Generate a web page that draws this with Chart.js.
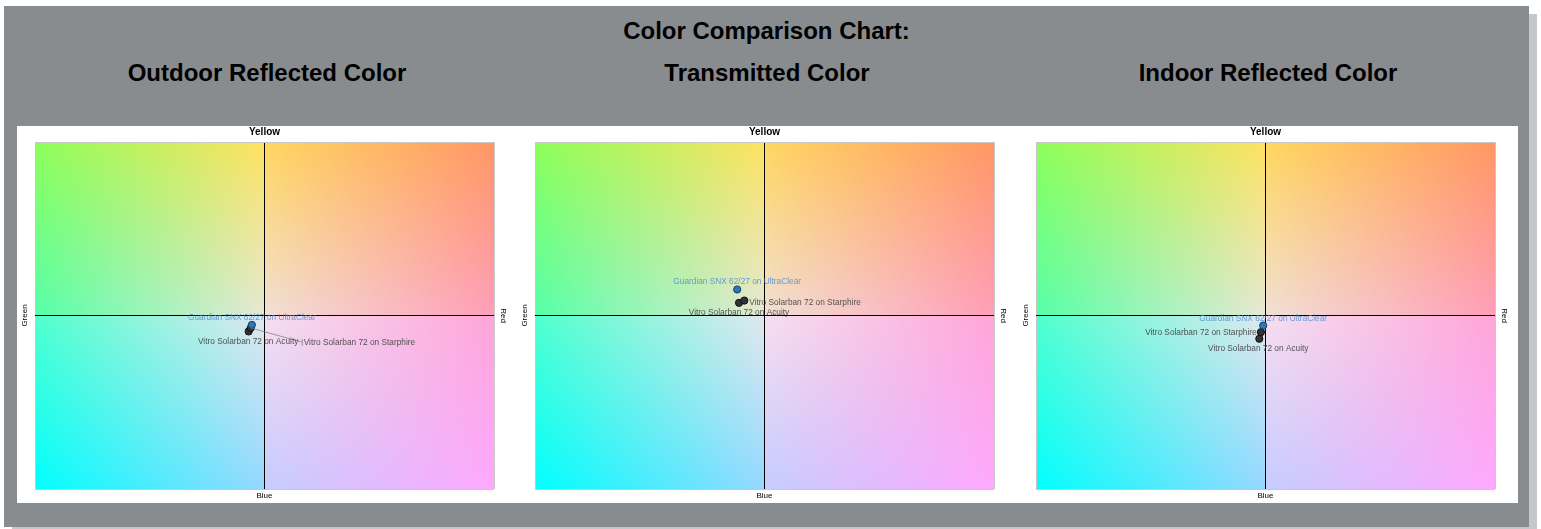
<!DOCTYPE html>
<html>
<head>
<meta charset="utf-8">
<script src="https://cdn.jsdelivr.net/npm/chart.js@4"></script>
<style>
body { margin: 0; background: #fff; font-family: Arial, "Liberation Sans", sans-serif; }
#frame { position: absolute; left: 4px; top: 6px; width: 1525px; height: 521px; background: #898c8e; box-shadow: 8px 8px 0 #c6c7c8; }
.ttl { position: absolute; font-weight: bold; font-size: 24px; line-height: 28px; height: 28px; text-align: center; color: #000; white-space: nowrap; }
#panel { position: absolute; left: 13px; top: 120px; width: 1501px; height: 377px; background: #fff; }
#panel canvas { position: absolute; top: 0; }
</style>
</head>
<body>
<div id="frame">
  <div class="ttl" style="left:0;width:1525px;top:11px">Color Comparison Chart:</div>
  <div class="ttl" style="left:13px;width:500px;top:53px">Outdoor Reflected Color</div>
  <div class="ttl" style="left:513px;width:500px;top:53px">Transmitted Color</div>
  <div class="ttl" style="left:1014px;width:500px;top:53px">Indoor Reflected Color</div>
  <div id="panel">
    <canvas id="c1" width="500" height="377" style="left:0"></canvas>
    <canvas id="c2" width="500" height="377" style="left:500px"></canvas>
    <canvas id="c3" width="500" height="377" style="left:1001px"></canvas>
  </div>
</div>
<script>
// products, same order in every chart
const products = ['Guardian SNX 62/27 on UltraClear', 'Vitro Solarban 72 on Starphire', 'Vitro Solarban 72 on Acuity'];

// a (green -> red) and b (blue -> yellow) values
const outdoorA = [-0.55, -0.60, -0.69];
const outdoorB = [-0.54, -0.72, -0.92];
const transA = [-1.19, -0.88, -1.11];
const transB = [1.50, 0.86, 0.73];
const indoorA = [-0.10, -0.20, -0.27];
const indoorB = [-0.58, -0.96, -1.34];

const axisMin = -10;
const axisMax = 10;

const pointFill = ['rgb(40,122,192)', '#333', '#333'];
const pointEdge = ['rgb(25,60,95)', '#111', '#111'];
const labelColor = ['rgba(70,138,205,0.8)', 'rgba(55,55,55,0.85)', 'rgba(55,55,55,0.85)'];

Chart.defaults.font.family = 'Arial, "Liberation Sans", sans-serif';

// colour field: bilinear per quadrant, [center, side, top/bottom, corner]
const quads = {
    tl: [[230, 232, 212], [85, 255, 170], [255, 225, 98], [140, 255, 90]],
    tr: [[240, 224, 212], [255, 158, 185], [255, 215, 95], [255, 150, 100]],
    bl: [[224, 232, 238], [80, 255, 205], [150, 215, 255], [0, 255, 255]],
    br: [[246, 222, 240], [255, 165, 215], [196, 205, 255], [255, 168, 255]]
};

function buildField(w, h) {
    let cv = document.createElement('canvas');
    cv.width = w; cv.height = h;
    let c = cv.getContext('2d');
    let img = c.createImageData(w, h);
    for (let j = 0; j < h; j++) {
        let v = (j + 0.5) / h * 2 - 1;
        for (let i = 0; i < w; i++) {
            let u = (i + 0.5) / w * 2 - 1;
            let q = quads[(v < 0 ? 't' : 'b') + (u < 0 ? 'l' : 'r')];
            let a = Math.abs(u), b = Math.abs(v);
            let k = (j * w + i) * 4;
            for (let ch = 0; ch < 3; ch++) {
                img.data[k + ch] = (1 - a) * (1 - b) * q[0][ch] + a * (1 - b) * q[1][ch] + (1 - a) * b * q[2][ch] + a * b * q[3][ch];
            }
            img.data[k + 3] = 255;
        }
    }
    c.putImageData(img, 0, 0);
    return cv;
}

const fieldPlugin = {
    id: 'field',
    beforeDraw(chart) {
        let a = chart.chartArea;
        let w = Math.round(a.right - a.left), h = Math.round(a.bottom - a.top);
        if (!chart.$field || chart.$field.width != w || chart.$field.height != h)
            chart.$field = buildField(w, h);
        chart.ctx.drawImage(chart.$field, a.left, a.top);
    }
};

function labelPlugin(offsets) {
    return {
        id: 'pointLabels',
        afterDatasetsDraw(chart) {
            let ctx = chart.ctx;
            ctx.save();
            ctx.font = '8.3px Arial, "Liberation Sans", sans-serif';
            ctx.textBaseline = 'middle';
            for (let i = 0; i < products.length; i++) {
                let el = chart.getDatasetMeta(i).data[0];
                let o = offsets[i];
                let lx = el.x + o.dx, ly = el.y + o.dy;
                if (o.leader) {
                    ctx.strokeStyle = 'rgba(120,120,120,0.7)';
                    ctx.lineWidth = 1;
                    ctx.beginPath();
                    ctx.moveTo(el.x, el.y);
                    ctx.lineTo(lx - 2, ly - 1);
                    ctx.moveTo(lx - 1.5, ly - 4);
                    ctx.lineTo(lx - 1.5, ly + 3);
                    ctx.stroke();
                }
                ctx.textAlign = o.align;
                ctx.fillStyle = labelColor[i];
                ctx.fillText(products[i], lx, ly);
            }
            ctx.restore();
        }
    };
}

function gridColor(c) {
    if (!c.tick) return 'transparent';
    return c.tick.value == 0 ? '#000' : '#c8c8c8';
}

function makeChart(id, xs, ys, offsets) {
    let datasets = products.map((p, i) => ({
        label: p,
        data: [{ x: xs[i], y: ys[i] }],
        backgroundColor: pointFill[i],
        borderColor: pointEdge[i],
        borderWidth: 1,
        pointRadius: 3.6
    }));
    let hidden = { display: false };
    new Chart(document.getElementById(id), {
        type: 'scatter',
        data: { datasets: datasets },
        options: {
            responsive: false,
            animation: false,
            layout: { padding: 0 },
            plugins: { legend: hidden, tooltip: { enabled: false } },
            scales: {
                x: {
                    type: 'linear', position: 'bottom', min: axisMin, max: axisMax,
                    ticks: { display: false, stepSize: 10 },
                    grid: { color: gridColor, drawTicks: false },
                    border: hidden,
                    title: { display: true, text: 'Blue', color: '#000', font: { size: 8 }, padding: { top: 0, bottom: 2 } },
                    afterFit: (s) => { s.height = 14; }
                },
                x2: {
                    type: 'linear', axis: 'x', position: 'top', min: axisMin, max: axisMax,
                    ticks: hidden, grid: hidden, border: hidden,
                    title: { display: true, text: 'Yellow', color: '#000', font: { size: 10, weight: 'bold' }, padding: { top: 0.5, bottom: 0 } },
                    afterFit: (s) => { s.height = 16; }
                },
                y: {
                    type: 'linear', position: 'left', min: axisMin, max: axisMax,
                    ticks: { display: false, stepSize: 10 },
                    grid: { color: gridColor, drawTicks: false },
                    border: hidden,
                    title: { display: true, text: 'Green', color: '#000', font: { size: 8 }, padding: { top: 2.5, bottom: 0 } },
                    afterFit: (s) => { s.width = 18; }
                },
                y2: {
                    type: 'linear', axis: 'y', position: 'right', min: axisMin, max: axisMax,
                    ticks: hidden, grid: hidden, border: hidden,
                    title: { display: true, text: 'Red', color: '#000', font: { size: 8 }, padding: { top: 8.5, bottom: 0 } },
                    afterFit: (s) => { s.width = 23; }
                }
            }
        },
        plugins: [fieldPlugin, labelPlugin(offsets)]
    });
}

makeChart('c1', outdoorA, outdoorB, [
    { dx: 0, dy: -7.6, align: 'center' },
    { dx: 53, dy: 15, align: 'left', leader: true },
    { dx: -0.5, dy: 10.7, align: 'center' }
]);
makeChart('c2', transA, transB, [
    { dx: 0, dy: -7.5, align: 'center' },
    { dx: 5, dy: 1.7, align: 'left' },
    { dx: 0, dy: 10, align: 'center' }
]);
makeChart('c3', indoorA, indoorB, [
    { dx: 0, dy: -7, align: 'center' },
    { dx: -4.3, dy: 0.5, align: 'right' },
    { dx: -1, dy: 10, align: 'center' }
]);
</script>
</body>
</html>
